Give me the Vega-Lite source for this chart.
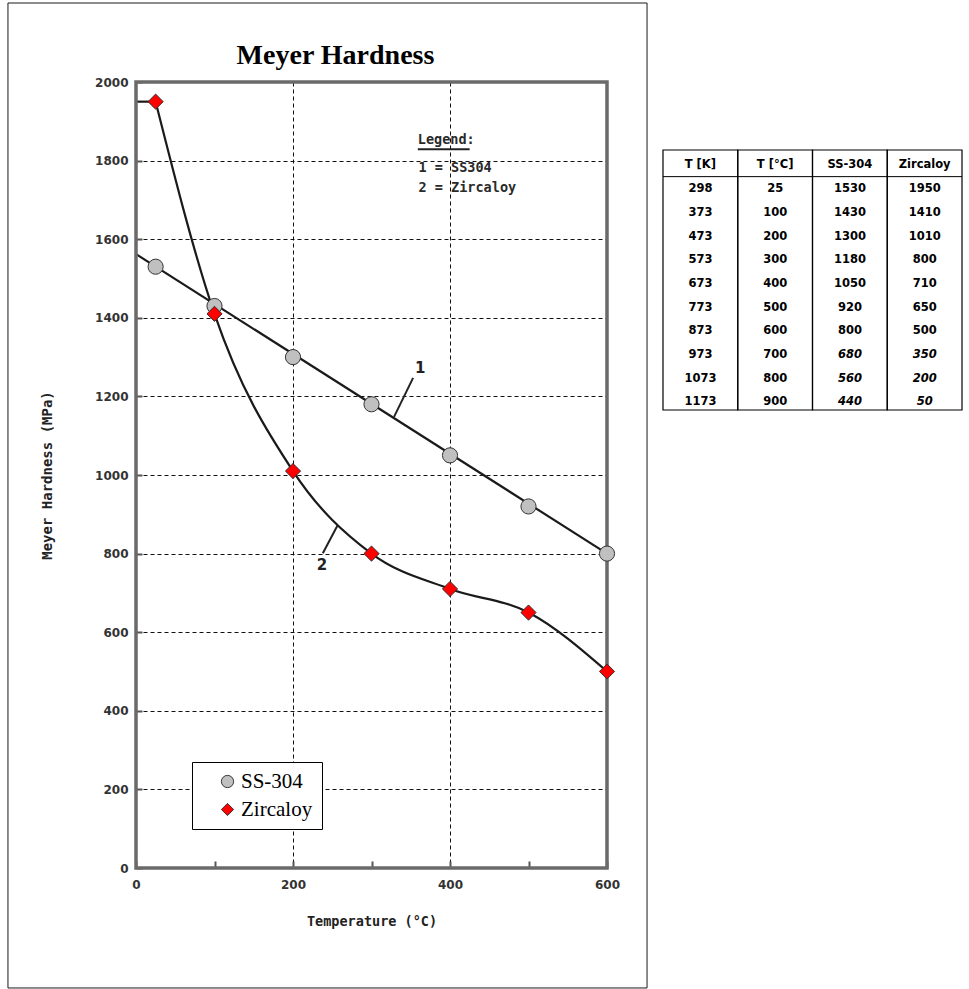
{
  "$schema": "https://vega.github.io/schema/vega-lite/v6.json",
  "background": "white",
  "padding": {"left": 7, "top": 2, "right": 0, "bottom": 0},
  "bounds": "flush",
  "spacing": 56,
  "config": {"view": {"stroke": null}, "font": "DejaVu Sans"},
  "datasets": {
    "hardness": [
      {"TK": 298, "TC": 25, "SS-304": 1530, "Zircaloy": 1950},
      {"TK": 373, "TC": 100, "SS-304": 1430, "Zircaloy": 1410},
      {"TK": 473, "TC": 200, "SS-304": 1300, "Zircaloy": 1010},
      {"TK": 573, "TC": 300, "SS-304": 1180, "Zircaloy": 800},
      {"TK": 673, "TC": 400, "SS-304": 1050, "Zircaloy": 710},
      {"TK": 773, "TC": 500, "SS-304": 920, "Zircaloy": 650},
      {"TK": 873, "TC": 600, "SS-304": 800, "Zircaloy": 500},
      {"TK": 973, "TC": 700, "SS-304": 680, "Zircaloy": 350},
      {"TK": 1073, "TC": 800, "SS-304": 560, "Zircaloy": 200},
      {"TK": 1173, "TC": 900, "SS-304": 440, "Zircaloy": 50}
    ],
    "ssLine": [{"TC": 0, "H": 1562}, {"TC": 600, "H": 800}],
    "zrStub": [{"TC": 0, "H": 1950}, {"TC": 25, "H": 1950}],
    "leaders": [
      {"id": "a", "TC": 353, "H": 1247},
      {"id": "a", "TC": 328.7, "H": 1148},
      {"id": "b", "TC": 238, "H": 801},
      {"id": "b", "TC": 257, "H": 873},
      {"id": "u", "TC": 359, "H": 1829},
      {"id": "u", "TC": 425, "H": 1829}
    ],
    "curveLabels": [
      {"label": "1", "TC": 362, "H": 1272},
      {"label": "2", "TC": 237, "H": 771}
    ],
    "plotLegend": [
      {"label": "Legend:", "TC": 359, "H": 1852},
      {"label": "1 = SS304", "TC": 360, "H": 1781},
      {"label": "2 = Zircaloy", "TC": 360, "H": 1731}
    ],
    "headers": [
      {"key": "TK", "label": "T [K]"},
      {"key": "TC", "label": "T [°C]"},
      {"key": "SS-304", "label": "SS-304"},
      {"key": "Zircaloy", "label": "Zircaloy"}
    ],
    "one": [{"n": 0}]
  },
  "hconcat": [
    {
      "width": 471,
      "height": 786,
      "title": {"text": "Meyer Hardness", "font": "Liberation Serif", "fontSize": 28, "fontWeight": "bold", "color": "black", "frame": "group", "anchor": "middle", "dx": -36, "offset": -67},
      "layer": [
        {
          "data": {"name": "one"},
          "mark": {"type": "rect", "filled": false, "color": "#1a1a1a", "strokeWidth": 1},
          "encoding": {
            "x": {"datum": -163.1, "type": "quantitative"},
            "x2": {"datum": 651},
            "y": {"datum": -305.3, "type": "quantitative"},
            "y2": {"datum": 2201}
          }
        },
        {
          "data": {"name": "ssLine"},
          "mark": {"type": "line", "color": "#1a1a1a", "strokeWidth": 2.2},
          "encoding": {
            "x": {"field": "TC", "type": "quantitative"},
            "y": {"field": "H", "type": "quantitative"}
          }
        },
        {
          "data": {"name": "zrStub"},
          "mark": {"type": "line", "color": "#1a1a1a", "strokeWidth": 2.2},
          "encoding": {
            "x": {"field": "TC", "type": "quantitative"},
            "y": {"field": "H", "type": "quantitative"}
          }
        },
        {
          "data": {"name": "hardness"},
          "transform": [{"filter": "datum.TC <= 600"}],
          "mark": {"type": "line", "color": "#1a1a1a", "strokeWidth": 2.2, "interpolate": "monotone"},
          "encoding": {
            "x": {"field": "TC", "type": "quantitative"},
            "y": {"field": "Zircaloy", "type": "quantitative"}
          }
        },
        {
          "data": {"name": "leaders"},
          "mark": {"type": "line", "color": "#222", "strokeWidth": 2},
          "encoding": {
            "x": {"field": "TC", "type": "quantitative"},
            "y": {"field": "H", "type": "quantitative"},
            "detail": {"field": "id", "type": "nominal"}
          }
        },
        {
          "data": {"name": "curveLabels"},
          "mark": {"type": "text", "font": "DejaVu Sans", "fontWeight": "bold", "fontSize": 15, "color": "#222", "baseline": "middle", "align": "center"},
          "encoding": {
            "x": {"field": "TC", "type": "quantitative"},
            "y": {"field": "H", "type": "quantitative"},
            "text": {"field": "label", "type": "nominal"}
          }
        },
        {
          "data": {"name": "plotLegend"},
          "mark": {"type": "text", "font": "DejaVu Sans Mono", "fontWeight": "bold", "fontSize": 13.5, "color": "#2a2a2a", "baseline": "middle", "align": "left"},
          "encoding": {
            "x": {"field": "TC", "type": "quantitative"},
            "y": {"field": "H", "type": "quantitative"},
            "text": {"field": "label", "type": "nominal"}
          }
        },
        {
          "data": {"name": "one"},
          "mark": {"type": "rect", "filled": false, "color": "#6a6a6a", "strokeWidth": 3.5},
          "encoding": {
            "x": {"datum": 0, "type": "quantitative"},
            "x2": {"datum": 600},
            "y": {"datum": 0, "type": "quantitative"},
            "y2": {"datum": 2000}
          }
        },
        {
          "data": {"name": "hardness"},
          "transform": [
            {"filter": "datum.TC <= 600"},
            {"fold": ["SS-304", "Zircaloy"], "as": ["Material", "H"]}
          ],
          "mark": {"type": "point", "filled": true, "size": 230, "opacity": 1, "stroke": "#333", "strokeWidth": 1},
          "encoding": {
            "x": {
              "field": "TC", "type": "quantitative",
              "scale": {"domain": [0, 600], "nice": false, "zero": false},
              "axis": {
                "title": "Temperature (°C)",
                "values": [0, 100, 200, 300, 400, 500, 600],
                "format": "d",
                "labelExpr": "datum.value % 200 === 0 ? datum.label : ''",
                "domain": false,
                "grid": true, "gridColor": "#111", "gridDash": [4, 3], "gridWidth": 1,
                "gridOpacity": {"condition": {"test": "datum.value % 200 !== 0", "value": 0}, "value": 1},
                "ticks": true, "tickSize": -7, "tickColor": "#555", "tickWidth": 2,
                "labelFont": "DejaVu Sans", "labelFontSize": 12, "labelFontWeight": "bold", "labelColor": "#333",
                "labelPadding": 18, "labelFlush": false, "labelOverlap": false,
                "titleFont": "DejaVu Sans Mono", "titleFontSize": 13.5, "titleFontWeight": "bold", "titleColor": "#222", "titlePadding": 24
              }
            },
            "y": {
              "field": "H", "type": "quantitative",
              "scale": {"domain": [0, 2000], "nice": false, "zero": false},
              "axis": {
                "title": "Meyer Hardness (MPa)",
                "values": [0, 200, 400, 600, 800, 1000, 1200, 1400, 1600, 1800, 2000],
                "format": "d",
                "domain": false,
                "grid": true, "gridColor": "#111", "gridDash": [4, 3], "gridWidth": 1,
                "ticks": true, "tickSize": -6, "tickColor": "#555", "tickWidth": 2,
                "labelFont": "DejaVu Sans", "labelFontSize": 12, "labelFontWeight": "bold", "labelColor": "#333",
                "labelPadding": 14, "labelFlush": false, "labelOverlap": false,
                "titleFont": "DejaVu Sans Mono", "titleFontSize": 14, "titleFontWeight": "bold", "titleColor": "#222", "titlePadding": 40
              }
            },
            "shape": {"field": "Material", "type": "nominal", "scale": {"domain": ["SS-304", "Zircaloy"], "range": ["circle", "diamond"]}},
            "fill": {
              "field": "Material", "type": "nominal",
              "scale": {"domain": ["SS-304", "Zircaloy"], "range": ["#c0c0c0", "#ff0000"]},
              "legend": {
                "title": null, "orient": "none", "legendX": 56, "legendY": 680,
                "strokeColor": "black", "fillColor": "white", "cornerRadius": 0,
                "padding": 9, "rowPadding": 6, "symbolOffset": 16,
                "symbolSize": 150, "symbolStrokeColor": "#333", "symbolStrokeWidth": 1,
                "labelFont": "Liberation Serif", "labelFontSize": 21, "labelColor": "black", "labelOffset": 3
              }
            }
          }
        }
      ]
    },
    {
      "width": 299,
      "height": 328,
      "resolve": {"scale": {"y": "independent"}},
      "layer": [
        {
          "data": {"name": "headers"},
          "mark": {"type": "rect", "filled": false, "color": "black", "strokeWidth": 1.2},
          "encoding": {
            "x": {"field": "key", "type": "nominal", "scale": {"type": "band", "domain": ["TK", "TC", "SS-304", "Zircaloy"], "paddingInner": 0, "paddingOuter": 0}, "axis": null},
            "y": {"datum": 0, "type": "quantitative", "scale": {"domain": [0, 11], "range": [68, 328], "nice": false, "zero": false}, "axis": null},
            "y2": {"datum": 11}
          }
        },
        {
          "data": {"name": "one"},
          "mark": {"type": "rule", "color": "black", "strokeWidth": 1},
          "encoding": {
            "y": {"datum": 1, "type": "quantitative", "scale": {"domain": [0, 11], "range": [71, 331], "nice": false, "zero": false}, "axis": null}
          }
        },
        {
          "data": {"name": "headers"},
          "mark": {"type": "text", "font": "DejaVu Sans", "fontWeight": "bold", "fontSize": 11.5, "color": "black", "baseline": "middle", "align": "center"},
          "encoding": {
            "x": {"field": "key", "type": "nominal", "scale": {"type": "band", "domain": ["TK", "TC", "SS-304", "Zircaloy"], "paddingInner": 0, "paddingOuter": 0}, "axis": null},
            "y": {"datum": "hdr", "type": "ordinal", "scale": {"type": "band", "domain": ["hdr", 298, 373, 473, 573, 673, 773, 873, 973, 1073, 1173], "range": [71, 331], "paddingInner": 0, "paddingOuter": 0}, "axis": null},
            "text": {"field": "label", "type": "nominal"}
          }
        },
        {
          "data": {"name": "hardness"},
          "transform": [
            {"fold": ["TK", "TC", "SS-304", "Zircaloy"], "as": ["key", "value"]},
            {"filter": "datum.TC < 700 || datum.key === 'TK' || datum.key === 'TC'"}
          ],
          "mark": {"type": "text", "font": "DejaVu Sans", "fontWeight": "bold", "fontSize": 11.5, "color": "black", "baseline": "middle", "align": "center"},
          "encoding": {
            "x": {"field": "key", "type": "nominal", "scale": {"type": "band", "domain": ["TK", "TC", "SS-304", "Zircaloy"], "paddingInner": 0, "paddingOuter": 0}, "axis": null},
            "y": {"field": "TK", "type": "ordinal", "scale": {"type": "band", "domain": ["hdr", 298, 373, 473, 573, 673, 773, 873, 973, 1073, 1173], "range": [72, 332], "paddingInner": 0, "paddingOuter": 0}, "axis": null},
            "text": {"field": "value", "type": "nominal"}
          }
        },
        {
          "data": {"name": "hardness"},
          "transform": [
            {"fold": ["SS-304", "Zircaloy"], "as": ["key", "value"]},
            {"filter": "datum.TC >= 700"}
          ],
          "mark": {"type": "text", "font": "DejaVu Sans", "fontWeight": "bold", "fontStyle": "italic", "fontSize": 11.5, "color": "black", "baseline": "middle", "align": "center"},
          "encoding": {
            "x": {"field": "key", "type": "nominal", "scale": {"type": "band", "domain": ["TK", "TC", "SS-304", "Zircaloy"], "paddingInner": 0, "paddingOuter": 0}, "axis": null},
            "y": {"field": "TK", "type": "ordinal", "scale": {"type": "band", "domain": ["hdr", 298, 373, 473, 573, 673, 773, 873, 973, 1073, 1173], "range": [72, 332], "paddingInner": 0, "paddingOuter": 0}, "axis": null},
            "text": {"field": "value", "type": "nominal"}
          }
        }
      ]
    }
  ]
}
